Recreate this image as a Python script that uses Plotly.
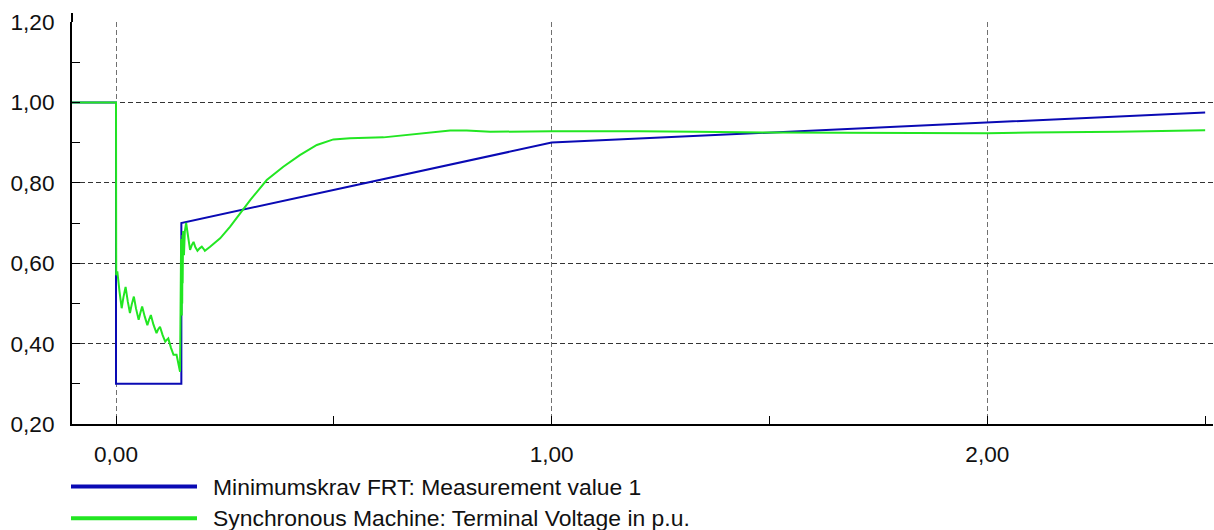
import plotly.graph_objects as go

# ---- data ----
blue_x = [-0.101, 0.0, 0.0, 0.15, 0.15, 1.0, 2.5]
blue_y = [1.0, 1.0, 0.30, 0.30, 0.70, 0.90, 0.975]

green_x = [-0.101, 0.0, 0.0005, 0.003, 0.008, 0.013, 0.017, 0.022, 0.027, 0.032, 0.036, 0.041,
           0.046, 0.052, 0.056, 0.060, 0.066, 0.072, 0.076, 0.080, 0.086, 0.093, 0.097, 0.101,
           0.107, 0.113, 0.117, 0.120, 0.126, 0.132, 0.139, 0.147,
           0.1495, 0.150, 0.1505, 0.151, 0.1515, 0.152, 0.1525, 0.153, 0.154, 0.156,
           0.158, 0.161, 0.165, 0.170, 0.174, 0.178, 0.182, 0.187, 0.192, 0.197, 0.201, 0.204,
           0.216, 0.239, 0.262, 0.285, 0.308, 0.346, 0.384, 0.422, 0.461, 0.499, 0.537, 0.614,
           0.690, 0.767, 0.805, 0.859, 1.0, 1.11, 1.2, 1.33, 1.5, 2.0, 2.1, 2.3, 2.5]
green_y = [1.0, 1.0, 0.57, 0.58, 0.53, 0.488, 0.515, 0.541, 0.505, 0.476, 0.497, 0.517,
           0.487, 0.459, 0.477, 0.492, 0.467, 0.446, 0.460, 0.471, 0.447, 0.426, 0.436, 0.442,
           0.421, 0.405, 0.410, 0.413, 0.390, 0.372, 0.372, 0.33,
           0.66, 0.48, 0.66, 0.47, 0.65, 0.50, 0.67, 0.55, 0.68, 0.62,
           0.68, 0.70, 0.67, 0.633, 0.645, 0.653, 0.640, 0.631, 0.637, 0.641, 0.636, 0.631,
           0.641, 0.662, 0.691, 0.724, 0.757, 0.807, 0.840, 0.869, 0.894, 0.908, 0.911, 0.913,
           0.921, 0.930, 0.930, 0.927, 0.928, 0.927, 0.928, 0.927, 0.925, 0.923, 0.925, 0.927, 0.931]

series_names = ["Minimumskrav FRT: Measurement value 1",
                "Synchronous Machine: Terminal Voltage in p.u."]
series_colors = ["#0a0ab4", "#22e622"]

x_ticks = [0.0, 1.0, 2.0]
y_ticks = [0.2, 0.4, 0.6, 0.8, 1.0, 1.2]

FONT = "Liberation Sans, Arial, sans-serif"

fig = go.Figure()
fig.add_trace(go.Scatter(x=blue_x, y=blue_y, mode="lines", name=series_names[0],
                         line=dict(color=series_colors[0], width=2), showlegend=False))
fig.add_trace(go.Scatter(x=green_x, y=green_y, mode="lines", name=series_names[1],
                         line=dict(color=series_colors[1], width=2), showlegend=False))

L, R, T, B = 72, 1, 22, 106
W, H = 1214, 530
pw = W - L - R
ph = H - T - B

def px2paper_x(px):
    return (px - L) / pw

def py2paper_y(py):
    return (H - B - py) / ph

shapes = []
annotations = []
leg_y = [486.5, 518.3]
for i in range(2):
    yp = py2paper_y(leg_y[i])
    shapes.append(dict(type="line", xref="paper", yref="paper",
                       x0=px2paper_x(71), x1=px2paper_x(197), y0=yp, y1=yp,
                       line=dict(color=series_colors[i], width=4)))
    annotations.append(dict(xref="paper", yref="paper", x=px2paper_x(211), y=yp,
                            xanchor="left", yanchor="middle", showarrow=False,
                            text=series_names[i],
                            font=dict(family=FONT, size=22.9, color="#111")))
# axis extension above top
shapes.append(dict(type="line", xref="paper", yref="paper", x0=0, x1=0,
                   y0=1, y1=py2paper_y(13), line=dict(color="black", width=2)))

fig.update_layout(
    width=W, height=H,
    margin=dict(l=L, r=R, t=T, b=B, pad=0),
    paper_bgcolor="white", plot_bgcolor="white",
    separators=",.",
    font=dict(family=FONT, size=22.6, color="#111"),
    shapes=shapes, annotations=annotations,
    showlegend=False,
)
fig.update_xaxes(
    range=[-0.101, 2.518], tickvals=x_ticks, tickformat=".2f",
    showline=True, linecolor="black", linewidth=2,
    ticks="inside", ticklen=8, tickcolor="black", tickwidth=1,
    showgrid=True, gridcolor="#707070", gridwidth=1, griddash="5px,3px",
    zeroline=False, ticklabelstandoff=9,
    minor=dict(dtick=0.5, tick0=0, ticks="inside", ticklen=8, tickcolor="black",
               showgrid=False),
)
fig.update_yaxes(
    range=[0.2, 1.2], tickvals=y_ticks, tickformat=".2f",
    showline=True, linecolor="black", linewidth=2,
    ticks="inside", ticklen=8, tickcolor="black", tickwidth=1,
    showgrid=True, gridcolor="#333333", gridwidth=1, griddash="5px,3px",
    zeroline=False, ticklabelstandoff=11,
    minor=dict(dtick=0.1, tick0=0.2, ticks="inside", ticklen=8, tickcolor="black",
               showgrid=False),
)

fig.write_html("out.html")
